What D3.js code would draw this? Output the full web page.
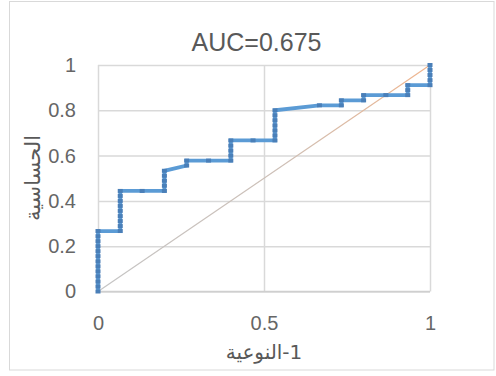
<!DOCTYPE html>
<html>
<head>
<meta charset="utf-8">
<script src="https://cdn.jsdelivr.net/npm/d3@7"></script>
<style>
  html, body { margin: 0; padding: 0; background: #fff; }
  svg { display: block; }
</style>
</head>
<body>
<svg id="chart" width="496" height="376"></svg>
<script>
// ROC curve: false positive rate (1 - specificity) and true positive rate (sensitivity)
const fpr = [
  0, 0, 0, 0, 0, 0, 0, 0, 0, 0, 0, 0, 0,
  0.067, 0.067, 0.067, 0.067, 0.067, 0.067, 0.067, 0.067, 0.067,
  0.133,
  0.2, 0.2, 0.2, 0.2, 0.2,
  0.267, 0.267,
  0.333,
  0.4, 0.4, 0.4, 0.4, 0.4,
  0.467,
  0.533, 0.533, 0.533, 0.533, 0.533, 0.533, 0.533,
  0.667,
  0.733, 0.733,
  0.8, 0.8,
  0.867,
  0.933, 0.933, 0.933,
  1, 1, 1, 1, 1
];
const tpr = [
  0, 0.022, 0.044, 0.067, 0.089, 0.111, 0.133, 0.156, 0.178, 0.2, 0.222, 0.244, 0.267,
  0.267, 0.289, 0.311, 0.333, 0.356, 0.378, 0.4, 0.422, 0.444,
  0.444,
  0.444, 0.467, 0.489, 0.511, 0.533,
  0.556, 0.578,
  0.578,
  0.578, 0.6, 0.622, 0.644, 0.667,
  0.667,
  0.667, 0.689, 0.711, 0.733, 0.756, 0.778, 0.8,
  0.822,
  0.822, 0.844,
  0.844, 0.867,
  0.867,
  0.867, 0.889, 0.911,
  0.911, 0.933, 0.956, 0.978, 1
];

// chance line
const diagX = [0, 1];
const diagY = [0, 1];

const yTicks = [0, 0.2, 0.4, 0.6, 0.8, 1];
const yTickLabels = ["0", "0.2", "0.4", "0.6", "0.8", "1"];
const xTicks = [0, 0.5, 1];
const xTickLabels = ["0", "0.5", "1"];

const titleText = "AUC=0.675";
const xTitle = "1-النوعية";
const yTitle = "الحساسية";

const svg = d3.select("#chart");

const x = d3.scaleLinear().domain([0, 1]).range([98, 430]);
const y = d3.scaleLinear().domain([0, 1]).range([291.5, 65]);

const latin = "'Liberation Sans', Arial, sans-serif";
const arabic = "'DejaVu Sans', 'Noto Sans', sans-serif";

// chart frame
svg.append("rect")
  .attr("x", 9.5).attr("y", 1.5)
  .attr("width", 484.5).attr("height", 368.5)
  .attr("fill", "#fff")
  .attr("stroke", "#d9d9d9")
  .attr("stroke-width", 1);

// horizontal gridlines + y labels
const yAxis = d3.axisLeft(y)
  .tickValues(yTicks)
  .tickSize(-(x(1) - x(0)))
  .tickPadding(22)
  .tickFormat((d, i) => yTickLabels[i]);

const gy = svg.append("g")
  .attr("transform", `translate(${x(0)},0)`)
  .call(yAxis);
gy.select(".domain").remove();
gy.selectAll(".tick line")
  .attr("stroke", "#d9d9d9")
  .attr("stroke-width", 1.5);
gy.selectAll(".tick text")
  .attr("fill", "#666")
  .attr("font-family", latin)
  .attr("font-size", 20);

// vertical gridlines + x labels
const xAxis = d3.axisBottom(x)
  .tickValues(xTicks)
  .tickSize(-(y(0) - y(1)))
  .tickPadding(24)
  .tickFormat((d, i) => xTickLabels[i]);

const gx = svg.append("g")
  .attr("transform", `translate(0,${y(0)})`)
  .call(xAxis);
gx.select(".domain").remove();
gx.selectAll(".tick line")
  .attr("stroke", "#d9d9d9")
  .attr("stroke-width", 1.5);
gx.selectAll(".tick text")
  .attr("fill", "#666")
  .attr("font-family", latin)
  .attr("font-size", 20);

// bottom axis line
svg.append("line")
  .attr("x1", x(0)).attr("x2", x(1))
  .attr("y1", y(0)).attr("y2", y(0))
  .attr("stroke", "#cfcfcf")
  .attr("stroke-width", 1.5);

// chance diagonal
const defs = svg.append("defs");
const grad = defs.append("linearGradient")
  .attr("id", "diagGrad")
  .attr("gradientUnits", "userSpaceOnUse")
  .attr("x1", x(0)).attr("y1", y(0))
  .attr("x2", x(1)).attr("y2", y(1));
grad.append("stop").attr("offset", "0%").attr("stop-color", "#c4c4c4");
grad.append("stop").attr("offset", "55%").attr("stop-color", "#cdbfb6");
grad.append("stop").attr("offset", "100%").attr("stop-color", "#f0b48c");

const lineGen = d3.line().x(d => x(d[0])).y(d => y(d[1]));

svg.append("path")
  .datum(diagX.map((v, i) => [v, diagY[i]]))
  .attr("d", lineGen)
  .attr("fill", "none")
  .attr("stroke", "url(#diagGrad)")
  .attr("stroke-width", 1.2);

// ROC curve
const roc = fpr.map((v, i) => [v, tpr[i]]);

svg.append("path")
  .datum(roc)
  .attr("d", lineGen)
  .attr("fill", "none")
  .attr("stroke", "#5b9bd5")
  .attr("stroke-width", 3.8)
  .attr("stroke-linejoin", "miter");

svg.append("g")
  .selectAll("rect")
  .data(roc)
  .join("rect")
  .attr("x", d => x(d[0]) - 2.5)
  .attr("y", d => y(d[1]) - 2)
  .attr("width", 5)
  .attr("height", 4)
  .attr("fill", "#4a7fb8");

// title
svg.append("text")
  .attr("x", 256.5).attr("y", 51)
  .attr("text-anchor", "middle")
  .attr("fill", "#595959")
  .attr("font-family", latin)
  .attr("font-size", 25)
  .text(titleText);

// axis titles
svg.append("text")
  .attr("x", 264).attr("y", 359)
  .attr("text-anchor", "middle")
  .attr("direction", "rtl")
  .attr("fill", "#595959")
  .attr("font-family", arabic)
  .attr("font-size", 20)
  .text(xTitle);

svg.append("text")
  .attr("transform", "translate(40,178) rotate(-90)")
  .attr("text-anchor", "middle")
  .attr("fill", "#595959")
  .attr("font-family", arabic)
  .attr("font-size", 21)
  .text(yTitle);
</script>
</body>
</html>
